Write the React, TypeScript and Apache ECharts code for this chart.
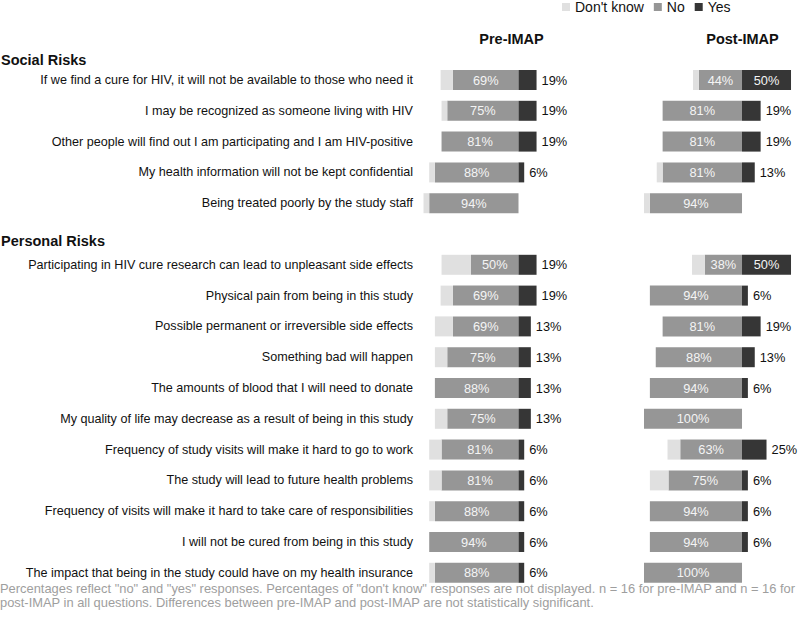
import React, { useEffect, useRef } from 'react';
import * as echarts from 'echarts';

const categories = [
  'If we find a cure for HIV, it will not be available to those who need it',
  'I may be recognized as someone living with HIV',
  'Other people will find out I am participating and I am HIV-positive',
  'My health information will not be kept confidential',
  'Being treated poorly by the study staff',
  'Participating in HIV cure research can lead to unpleasant side effects',
  'Physical pain from being in this study',
  'Possible permanent or irreversible side effects',
  'Something bad will happen',
  'The amounts of blood that I will need to donate',
  'My quality of life may decrease as a result of being in this study',
  'Frequency of study visits will make it hard to go to work',
  'The study will lead to future health problems',
  'Frequency of visits will make it hard to take care of responsibilities',
  'I will not be cured from being in this study',
  'The impact that being in the study could have on my health insurance',
];

const preNo = [69, 75, 81, 88, 94, 50, 69, 69, 75, 88, 75, 81, 81, 88, 94, 88];
const preYes = [19, 19, 19, 6, 0, 19, 19, 13, 13, 13, 13, 6, 6, 6, 6, 6];
const preDontKnow = [13, 6, 0, 6, 6, 31, 13, 19, 13, 0, 13, 13, 13, 6, 0, 6];

const postNo = [44, 81, 81, 81, 94, 38, 94, 81, 88, 94, 100, 63, 75, 94, 94, 100];
const postYes = [50, 19, 19, 13, 0, 50, 6, 19, 13, 6, 0, 25, 6, 6, 6, 0];
const postDontKnow = [6, 0, 0, 6, 6, 13, 0, 0, 0, 0, 0, 13, 19, 0, 0, 0];

const legendNames = ["Don't know", 'No', 'Yes'];
const panelTitles = ['Pre-IMAP', 'Post-IMAP'];
const sectionTitles = ['Social Risks', 'Personal Risks'];
const footnote =
  'Percentages reflect "no" and "yes" responses. Percentages of "don\'t know" responses are not displayed. n = 16 for pre-IMAP and n = 16 for\npost-IMAP in all questions. Differences between pre-IMAP and post-IMAP are not statistically significant.';

const SOCIAL_COUNT = 5;

const FONT = "'Liberation Sans', Arial, Helvetica, sans-serif";
const C_DK = '#e0e0e0';
const C_NO = '#969696';
const C_YES = '#363636';

function withGap<T>(arr: T[], fill: T): T[] {
  return [...arr.slice(0, SOCIAL_COUNT), fill, ...arr.slice(SOCIAL_COUNT)];
}

function panelSeries(idx: number, no: number[], yes: number[], dk: number[]) {
  const stack = 'panel' + idx;
  const common = {
    type: 'bar' as const,
    stack,
    xAxisIndex: idx,
    yAxisIndex: idx,
    barWidth: 20,
    silent: true,
  };
  return [
    {
      ...common,
      name: 'No',
      itemStyle: { color: C_NO },
      label: {
        show: true,
        position: 'inside',
        color: '#f4f4f4',
        fontSize: 12.8,
        fontFamily: FONT,
        formatter: (p: any) => Math.abs(p.value) + '%',
      },
      data: withGap(no.map((v) => (v ? -v : '-')), '-' as any),
    },
    {
      ...common,
      name: "Don't know",
      itemStyle: { color: C_DK },
      data: withGap(dk.map((v) => (v ? -v : '-')), '-' as any),
    },
    {
      ...common,
      name: 'Yes',
      itemStyle: { color: C_YES },
      label: {
        show: true,
        fontSize: 12.8,
        fontFamily: FONT,
        formatter: (p: any) => p.value + '%',
      },
      data: withGap(
        yes.map((v) =>
          v
            ? {
                value: v,
                label:
                  v >= 30
                    ? { position: 'inside', color: '#f4f4f4' }
                    : { position: 'right', color: '#111', distance: 5 },
              }
            : '-'
        ),
        '-' as any
      ),
    },
  ];
}

export default function App() {
  const ref = useRef<HTMLDivElement>(null);

  useEffect(() => {
    if (!ref.current) return;
    const chart = echarts.init(ref.current, null, { renderer: 'svg' });
    const yCats = withGap(categories, '');
    const top = 64.6;
    const height = 523.6;

    chart.setOption({
      animation: false,
      backgroundColor: '#ffffff',
      textStyle: { fontFamily: FONT },
      legend: {
        data: legendNames,
        left: 562,
        top: 0,
        padding: 0,
        itemWidth: 8,
        itemHeight: 8,
        itemGap: 10,
        icon: 'rect',
        selectedMode: false,
        textStyle: { fontSize: 14, color: '#111', fontFamily: FONT },
      },
      grid: [
        { left: 423.5, width: 142.5, top, height },
        { left: 644, width: 152.9, top, height },
      ],
      xAxis: [
        { type: 'value', gridIndex: 0, min: -100, max: 50, show: false },
        { type: 'value', gridIndex: 1, min: -100, max: 56, show: false },
      ],
      yAxis: [
        {
          type: 'category',
          gridIndex: 0,
          inverse: true,
          data: yCats,
          axisLine: { show: false },
          axisTick: { show: false },
          axisLabel: {
            margin: 10.5,
            fontSize: 12.6,
            color: '#111',
            fontFamily: FONT,
          },
        },
        {
          type: 'category',
          gridIndex: 1,
          inverse: true,
          data: yCats,
          show: false,
        },
      ],
      series: [
        ...panelSeries(0, preNo, preYes, preDontKnow),
        ...panelSeries(1, postNo, postYes, postDontKnow),
      ],
      graphic: [
        {
          type: 'text',
          x: 511.5,
          y: 39,
          style: {
            text: panelTitles[0],
            fontSize: 14.5,
            fontWeight: 'bold',
            fontFamily: FONT,
            fill: '#111',
            align: 'center',
            verticalAlign: 'middle',
          },
        },
        {
          type: 'text',
          x: 742.5,
          y: 39,
          style: {
            text: panelTitles[1],
            fontSize: 14.5,
            fontWeight: 'bold',
            fontFamily: FONT,
            fill: '#111',
            align: 'center',
            verticalAlign: 'middle',
          },
        },
        {
          type: 'text',
          x: 1,
          y: 60,
          style: {
            text: sectionTitles[0],
            fontSize: 14.5,
            fontWeight: 'bold',
            fontFamily: FONT,
            fill: '#111',
            verticalAlign: 'middle',
          },
        },
        {
          type: 'text',
          x: 1,
          y: 241,
          style: {
            text: sectionTitles[1],
            fontSize: 14.5,
            fontWeight: 'bold',
            fontFamily: FONT,
            fill: '#111',
            verticalAlign: 'middle',
          },
        },
        {
          type: 'text',
          x: 0,
          y: 581,
          style: {
            text: footnote,
            fontSize: 12.9,
            lineHeight: 14.5,
            fontFamily: FONT,
            fill: '#9e9e9e',
          },
        },
      ],
    });

    return () => chart.dispose();
  }, []);

  return (
    <div
      ref={ref}
      style={{ position: 'fixed', left: 0, top: 0, width: 800, height: 622 }}
    />
  );
}
